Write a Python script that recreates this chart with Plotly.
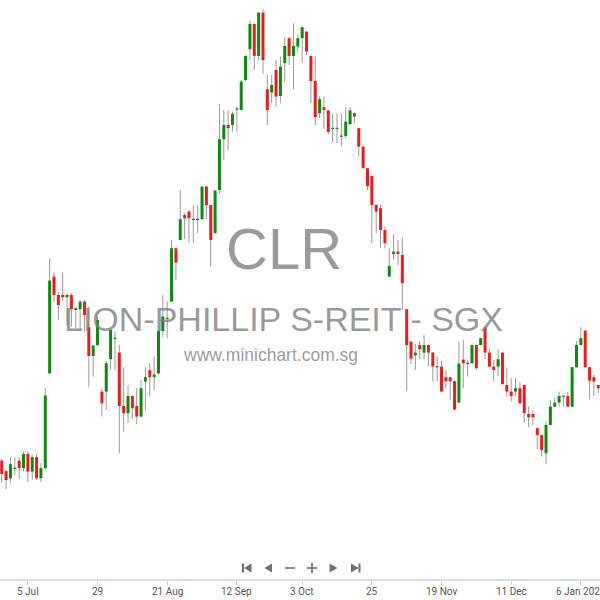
import pandas as pd
import plotly.graph_objects as go

# ---- data ----
holidays = ["2024-08-09", "2024-10-31", "2024-12-25", "2025-01-01"]
trading_days = [d.strftime("%Y-%m-%d") for d in pd.bdate_range("2024-06-27", "2025-01-10")
                if d.strftime("%Y-%m-%d") not in holidays]

open_ = [0.7697, 0.7644, 0.7609, 0.7657, 0.7697, 0.7659, 0.7730, 0.7642, 0.7714, 0.7609,
         0.7659, 0.8134, 0.8617, 0.8525, 0.8525, 0.8514, 0.8525, 0.8450, 0.8454, 0.8492,
         0.8364, 0.8220, 0.8275, 0.8042, 0.8042, 0.8204, 0.8307, 0.8237, 0.7970, 0.7934,
         0.8020, 0.7970, 0.7917, 0.8092, 0.8149, 0.8114, 0.8133, 0.8345, 0.8408, 0.8492,
         0.8759, 0.8800, 0.8925, 0.8942, 0.8902, 0.8902, 0.8904, 0.9067, 0.8975, 0.8834,
         0.9050, 0.9304, 0.9375, 0.9375, 0.9454, 0.9450, 0.9600, 0.9754, 0.9880, 0.9720,
         0.9937, 0.9554, 0.9537, 0.9650, 0.9520, 0.9684, 0.9809, 0.9720, 0.9767, 0.9809,
         0.9842, 0.9720, 0.9595, 0.9434, 0.9464, 0.9448, 0.9357, 0.9357, 0.9318, 0.9320,
         0.9380, 0.9434, 0.9359, 0.9267, 0.9159, 0.9120, 0.8975, 0.8959, 0.8850, 0.8617,
         0.8730, 0.8742, 0.8725, 0.8454, 0.8292, 0.8223, 0.8275, 0.8237, 0.8275, 0.8237,
         0.8165, 0.8167, 0.8114, 0.8114, 0.8094, 0.7987, 0.8202, 0.8182, 0.8184, 0.8275,
         0.8275, 0.8364, 0.8237, 0.8167, 0.8167, 0.8237, 0.8075, 0.8042, 0.8042, 0.8059,
         0.8075, 0.7930, 0.7930, 0.7859, 0.7825, 0.7734, 0.7875, 0.7967, 0.7987, 0.8019,
         0.8020, 0.7967, 0.8164, 0.8275, 0.8347, 0.8164, 0.8114, 0.8075]
high = [0.7705, 0.7650, 0.7714, 0.7714, 0.7714, 0.7742, 0.7742, 0.7725, 0.7730, 0.7684,
        0.8059, 0.8709, 0.8637, 0.8542, 0.8637, 0.8534, 0.8534, 0.8465, 0.8500, 0.8500,
        0.8467, 0.8275, 0.8417, 0.8059, 0.8195, 0.8359, 0.8342, 0.8275, 0.8164, 0.8075,
        0.8022, 0.8059, 0.8100, 0.8164, 0.8184, 0.8217, 0.8350, 0.8525, 0.8492, 0.8800,
        0.8762, 0.9050, 0.8935, 0.8950, 0.8975, 0.8975, 0.9068, 0.9070, 0.8977, 0.9050,
        0.9480, 0.9450, 0.9450, 0.9442, 0.9467, 0.9600, 0.9725, 0.9897, 0.9882, 0.9938,
        0.9954, 0.9625, 0.9625, 0.9700, 0.9717, 0.9814, 0.9814, 0.9884, 0.9825, 0.9866,
        0.9844, 0.9722, 0.9720, 0.9518, 0.9518, 0.9450, 0.9433, 0.9433, 0.9433, 0.9465,
        0.9465, 0.9436, 0.9361, 0.9269, 0.9161, 0.9122, 0.8977, 0.8975, 0.8867, 0.8759,
        0.8830, 0.8800, 0.8814, 0.8456, 0.8294, 0.8280, 0.8293, 0.8325, 0.8277, 0.8239,
        0.8218, 0.8198, 0.8147, 0.8116, 0.8096, 0.8292, 0.8300, 0.8202, 0.8277, 0.8277,
        0.8311, 0.8366, 0.8256, 0.8200, 0.8255, 0.8239, 0.8164, 0.8109, 0.8109, 0.8092,
        0.8077, 0.7967, 0.7950, 0.7861, 0.7827, 0.7892, 0.8000, 0.8014, 0.8042, 0.8022,
        0.8042, 0.8166, 0.8292, 0.8364, 0.8349, 0.8166, 0.8125, 0.8077]
low = [0.7585, 0.7554, 0.7584, 0.7625, 0.7609, 0.7642, 0.7589, 0.7600, 0.7600, 0.7589,
       0.7650, 0.8130, 0.8492, 0.8400, 0.8500, 0.8375, 0.8367, 0.8359, 0.8350, 0.8342,
       0.8064, 0.8117, 0.8270, 0.7917, 0.7950, 0.8150, 0.8150, 0.7734, 0.7842, 0.7884,
       0.7905, 0.7880, 0.7914, 0.7950, 0.8017, 0.8050, 0.8130, 0.8313, 0.8309, 0.8490,
       0.8600, 0.8798, 0.8805, 0.8784, 0.8784, 0.8834, 0.8902, 0.8905, 0.8667, 0.8832,
       0.9034, 0.9200, 0.9250, 0.9342, 0.9342, 0.9448, 0.9592, 0.9700, 0.9650, 0.9700,
       0.9630, 0.9375, 0.9484, 0.9467, 0.9484, 0.9592, 0.9675, 0.9554, 0.9742, 0.9684,
       0.9725, 0.9484, 0.9375, 0.9410, 0.9355, 0.9328, 0.9287, 0.9285, 0.9267, 0.9310,
       0.9375, 0.9384, 0.9217, 0.9157, 0.9050, 0.8784, 0.8834, 0.8759, 0.8759, 0.8615,
       0.8700, 0.8675, 0.8450, 0.8045, 0.8180, 0.8150, 0.8204, 0.8204, 0.8167, 0.8092,
       0.8092, 0.8040, 0.8059, 0.8002, 0.7950, 0.7985, 0.8059, 0.8117, 0.8182, 0.8150,
       0.8273, 0.8204, 0.8165, 0.8092, 0.8120, 0.8075, 0.8020, 0.7992, 0.8020, 0.7982,
       0.7887, 0.7864, 0.7875, 0.7754, 0.7717, 0.7680, 0.7873, 0.7965, 0.7967, 0.7967,
       0.7965, 0.7965, 0.8162, 0.8273, 0.8162, 0.8004, 0.8020, 0.8034]
close = [0.7630, 0.7600, 0.7679, 0.7660, 0.7659, 0.7730, 0.7642, 0.7714, 0.7609, 0.7659,
         0.8022, 0.8597, 0.8525, 0.8475, 0.8514, 0.8525, 0.8454, 0.8459, 0.8492, 0.8425,
         0.8220, 0.8272, 0.8400, 0.7984, 0.8184, 0.8350, 0.8310, 0.7970, 0.7934, 0.8020,
         0.7959, 0.7917, 0.8059, 0.8114, 0.8114, 0.8128, 0.8345, 0.8417, 0.8410, 0.8759,
         0.8687, 0.8904, 0.8909, 0.8909, 0.8904, 0.8904, 0.9067, 0.8975, 0.8800, 0.9047,
         0.9304, 0.9375, 0.9359, 0.9430, 0.9455, 0.9592, 0.9720, 0.9880, 0.9720, 0.9937,
         0.9700, 0.9450, 0.9575, 0.9517, 0.9667, 0.9770, 0.9720, 0.9770, 0.9809, 0.9864,
         0.9742, 0.9595, 0.9414, 0.9504, 0.9450, 0.9340, 0.9359, 0.9359, 0.9320, 0.9392,
         0.9448, 0.9417, 0.9267, 0.9159, 0.9070, 0.8975, 0.8942, 0.8850, 0.8784, 0.8670,
         0.8742, 0.8730, 0.8584, 0.8275, 0.8207, 0.8237, 0.8254, 0.8275, 0.8237, 0.8167,
         0.8167, 0.8043, 0.8094, 0.8094, 0.7952, 0.8182, 0.8184, 0.8184, 0.8275, 0.8159,
         0.8309, 0.8237, 0.8167, 0.8150, 0.8204, 0.8080, 0.8042, 0.8020, 0.8059, 0.7984,
         0.7934, 0.7914, 0.7914, 0.7825, 0.7750, 0.7875, 0.7967, 0.7987, 0.8020, 0.8020,
         0.7967, 0.8164, 0.8275, 0.8309, 0.8164, 0.8097, 0.8092, 0.8059]

tick_dates = ["2024-07-05", "2024-07-29", "2024-08-21", "2024-09-12", "2024-10-03",
              "2024-10-25", "2024-11-19", "2024-12-11", "2025-01-06"]
tick_labels = ["5 Jul", "29", "21 Aug", "12 Sep", "3 Oct", "25", "19 Nov", "11 Dec", "6 Jan 2025"]

# ---- build ----
n = min(len(trading_days), len(open_))
idx = list(range(n))
pos = {d: i for i, d in enumerate(trading_days)}
tickvals = [pos[d] for d in tick_dates if d in pos]

GREEN = "#0b8c0b"
RED = "#f01a1a"
WICK = "#9a9a9a"
MIN_BODY = 0.0006

wx, wy = [], []
for i in idx:
    wx += [i, i, None]
    wy += [low[i], high[i], None]

gx, gy, rx, ry = [], [], [], []
for i in idx:
    lo = min(open_[i], close[i])
    hi = max(open_[i], close[i])
    if hi - lo < MIN_BODY:
        mid = (hi + lo) / 2
        lo, hi = mid - MIN_BODY / 2, mid + MIN_BODY / 2
    if close[i] >= open_[i]:
        gx += [i, i, None]; gy += [lo, hi, None]
    else:
        rx += [i, i, None]; ry += [lo, hi, None]

fig = go.Figure()
fig.add_trace(go.Scatter(x=wx, y=wy, mode="lines", line=dict(color=WICK, width=1),
                         hoverinfo="skip", showlegend=False))
fig.add_trace(go.Scatter(x=gx, y=gy, mode="lines", line=dict(color=GREEN, width=3),
                         hoverinfo="skip", showlegend=False))
fig.add_trace(go.Scatter(x=rx, y=ry, mode="lines", line=dict(color=RED, width=3),
                         hoverinfo="skip", showlegend=False))

PLOT_BOTTOM = 579.0
def py(p):
    return 1 - p / PLOT_BOTTOM

wm = "rgba(125,125,125,0.78)"
annotations = [
    dict(text="CLR", x=284 / 600, y=py(248), xref="paper", yref="paper", showarrow=False,
         font=dict(family="Liberation Sans, Arial", size=58, color=wm)),
    dict(text="LION-PHILLIP S-REIT - SGX", x=283 / 600, y=py(319), xref="paper", yref="paper",
         showarrow=False, font=dict(family="Liberation Sans, Arial", size=34, color=wm)),
    dict(text="www.minichart.com.sg", x=270 / 600, y=py(355), xref="paper", yref="paper",
         showarrow=False, font=dict(family="Liberation Sans, Arial", size=17.5, color=wm)),
]
for tv, tl in zip(tickvals, tick_labels):
    annotations.append(dict(text=tl, x=tv, xref="x", y=py(591), yref="paper", showarrow=False,
                            xanchor="center", yanchor="middle",
                            font=dict(family="Liberation Sans Narrow, Roboto, sans-serif",
                                      size=10, color="#555555")))

# navigation icons
IC = "#6e6e6e"
cy = 568
h = 4.5
def P(x, y):
    return f"{x / 600:.5f},{py(y):.5f}"
shapes = []
def tri(xs, xp):
    return dict(type="path", xref="paper", yref="paper",
                path=f"M {P(xs, cy - h)} L {P(xs, cy + h)} L {P(xp, cy)} Z",
                fillcolor=IC, line=dict(width=0))
def rect(x0, x1, y0, y1):
    return dict(type="rect", xref="paper", yref="paper", x0=x0 / 600, x1=x1 / 600,
                y0=py(y1), y1=py(y0), fillcolor=IC, line=dict(width=0))
shapes += [rect(242, 244, cy - h, cy + h), tri(251.5, 244)]
shapes += [tri(272, 264.5)]
shapes += [rect(285, 295, cy - 0.8, cy + 0.8)]
shapes += [rect(307, 317, cy - 0.8, cy + 0.8), rect(311.2, 312.8, cy - 5, cy + 5)]
shapes += [tri(329.5, 337.5)]
shapes += [tri(351, 358.5), rect(358.5, 360.5, cy - h, cy + h)]

fig.update_layout(
    width=600, height=600,
    margin=dict(l=0, r=0, t=0, b=600 - PLOT_BOTTOM),
    paper_bgcolor="white", plot_bgcolor="white",
    showlegend=False,
    annotations=annotations, shapes=shapes,
    xaxis=dict(range=[-0.4, n - 0.6], tickmode="array", tickvals=tickvals, showticklabels=False,
               showgrid=False, zeroline=False, showline=True, linecolor="#dcdcdc", linewidth=2,
               ticks="outside", ticklen=4, tickcolor="#d0d0d0", tickwidth=1),
    yaxis=dict(range=[1 - PLOT_BOTTOM / 2000, 1.0], visible=False, showgrid=False, zeroline=False),
)

fig.write_html("out.html", config={"displayModeBar": False},
               post_script="document.body.style.margin='0';document.body.style.padding='0';")
